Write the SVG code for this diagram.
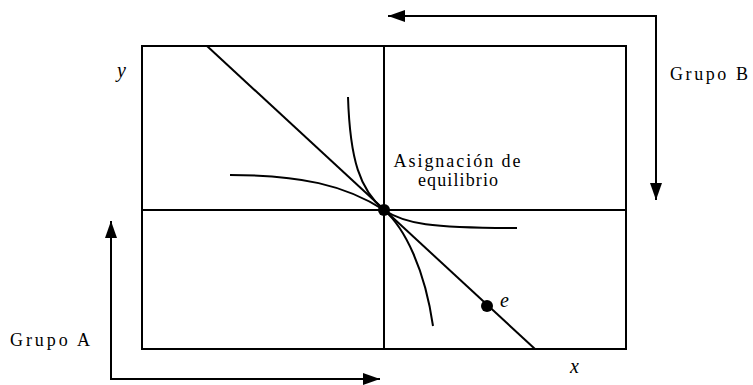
<svg xmlns="http://www.w3.org/2000/svg" width="753" height="385" viewBox="0 0 753 385">
<defs>
<style>
.ln{fill:none;stroke:#000;stroke-width:2;stroke-linecap:butt}
.cv{fill:none;stroke:#000;stroke-width:2}
.t{font-size:18px;fill:#000}
.m{font-size:20px;font-style:italic;fill:#000}
</style>
<marker id="ah" markerUnits="userSpaceOnUse" markerWidth="17" markerHeight="12" refX="17" refY="6" orient="auto">
<path d="M0,0 L17,6 L0,12 z" fill="#000"/>
</marker>
</defs>
<rect width="753" height="385" fill="#fff"/>
<g id="box">
<rect x="142" y="46" width="484" height="303" class="ln"/>
<line x1="384" y1="46" x2="384" y2="349" class="ln"/>
<line x1="142" y1="210" x2="626" y2="210" class="ln"/>
</g>
<g id="budget-line">
<line x1="207" y1="46" x2="535" y2="349" class="ln"/>
</g>
<g id="curve-a">
<path d="M230,175 C300,175 345,185 384,210 C405,224 430,228 517,228" class="cv"/>
</g>
<g id="curve-b">
<path d="M348,97 C350,160 360,190 384,210 C405,228 425,270 433,326" class="cv"/>
</g>
<g id="equilibrium" font-family="Liberation Serif, Times New Roman, serif">
<circle cx="384" cy="210" r="6" fill="#000"/>
<text class="t" x="457" y="167" font-size="16" text-anchor="middle" textLength="127" lengthAdjust="spacing">Asignación de</text>
<text class="t" x="458" y="186" font-size="16" text-anchor="middle" textLength="80" lengthAdjust="spacing">equilibrio</text>
</g>
<g id="point-e" font-family="Liberation Serif, Times New Roman, serif">
<circle cx="487" cy="306" r="6" fill="#000"/>
<text class="m" x="500" y="307">e</text>
</g>
<g id="labels" font-family="Liberation Serif, Times New Roman, serif">
<text class="m" x="117" y="77">y</text>
<text class="m" x="570" y="373">x</text>
<text class="t" x="670" y="80" textLength="78" lengthAdjust="spacing">Grupo B</text>
<text class="t" x="10" y="346" textLength="80" lengthAdjust="spacing">Grupo A</text>
</g>
<g id="connectors">
<path d="M656,16 L388,16" class="ln" marker-end="url(#ah)"/>
<path d="M656,15 L656,200" class="ln" marker-end="url(#ah)"/>
<path d="M111,379 L111,221" class="ln" marker-end="url(#ah)"/>
<path d="M110,379 L380,379" class="ln" marker-end="url(#ah)"/>
</g>
</svg>
